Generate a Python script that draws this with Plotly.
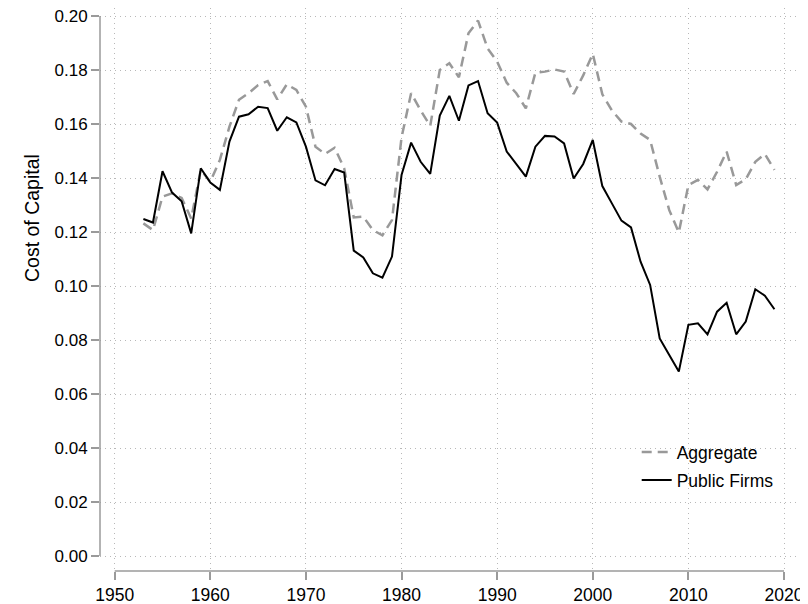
import plotly.graph_objects as go

years = list(range(1953, 2020))

aggregate = [
    0.1232, 0.1207, 0.1331, 0.1343, 0.1326, 0.1250, 0.1430, 0.1386, 0.1467, 0.1590,
    0.1690, 0.1714, 0.1744, 0.1759, 0.1691, 0.1747, 0.1726, 0.1664, 0.1516, 0.1489,
    0.1512, 0.1436, 0.1254, 0.1257, 0.1207, 0.1188, 0.1244, 0.1550, 0.1714, 0.1650,
    0.1593, 0.1800, 0.1825, 0.1773, 0.1936, 0.1983, 0.1880, 0.1831, 0.1753, 0.1714,
    0.1658, 0.1790, 0.1794, 0.1802, 0.1794, 0.1711, 0.1780, 0.1860, 0.1710, 0.1650,
    0.1609, 0.1600, 0.1565, 0.1541, 0.1405, 0.1281, 0.1198, 0.1374, 0.1393, 0.1358,
    0.1423, 0.1498, 0.1374, 0.1395, 0.1460, 0.1489, 0.1430,
]

public_firms = [
    0.1248, 0.1235, 0.1425, 0.1346, 0.1314, 0.1195, 0.1436, 0.1383, 0.1356, 0.1535,
    0.1627, 0.1636, 0.1664, 0.1659, 0.1575, 0.1625, 0.1606, 0.1516, 0.1391, 0.1373,
    0.1433, 0.1420, 0.1131, 0.1106, 0.1047, 0.1031, 0.1109, 0.1411, 0.1531, 0.1460,
    0.1415, 0.1631, 0.1704, 0.1612, 0.1743, 0.1759, 0.1640, 0.1605, 0.1498, 0.1452,
    0.1405, 0.1516, 0.1556, 0.1554, 0.1528, 0.1398, 0.1452, 0.1541, 0.1370, 0.1306,
    0.1242, 0.1217, 0.1090, 0.1004, 0.0806, 0.0744, 0.0683, 0.0856, 0.0862, 0.0821,
    0.0905, 0.0938, 0.0821, 0.0868, 0.0988, 0.0964, 0.0914,
]

x_ticks = [1950, 1960, 1970, 1980, 1990, 2000, 2010, 2020]
y_ticks = [0.00, 0.02, 0.04, 0.06, 0.08, 0.10, 0.12, 0.14, 0.16, 0.18, 0.20]
y_tick_labels = [f"{v:.2f}" for v in y_ticks]

FONT = "Liberation Sans, Arial, Helvetica, sans-serif"
AXIS_COL = "#9a9a9a"
GRID_COL = "#b8b8b8"

# figure is placed at (8, 8) in the page (default body margin)
W, H = 800, 596
L, R, T, B = 92, 789, 0, 563   # plot area in figure pixels
PW, PH = R - L, B - T

fig = go.Figure()
fig.add_trace(go.Scatter(
    x=years, y=aggregate, mode="lines", name="Aggregate", showlegend=True,
    line=dict(color="#999999", width=2.5, dash="10px,6px"),
    legend="legend",
))
fig.add_trace(go.Scatter(
    x=years, y=public_firms, mode="lines", name="Public Firms", showlegend=True,
    line=dict(color="#000000", width=2),
    legend="legend2",
))

# detached Stata-style axis lines
fig.add_shape(type="line", xref="paper", yref="y", x0=0, x1=0,
              y0=y_ticks[0], y1=y_ticks[-1], line=dict(color=AXIS_COL, width=1.5))
fig.add_shape(type="line", xref="x", yref="paper", x0=x_ticks[0], x1=x_ticks[-1],
              y0=0, y1=0, line=dict(color=AXIS_COL, width=1.5))

fig.add_annotation(
    text="Cost of Capital", textangle=-90, showarrow=False,
    xref="paper", yref="paper", x=(24 - L) / PW, y=(B - 210) / PH,
    xanchor="center", yanchor="middle",
    font=dict(family=FONT, size=19.5, color="#000000"),
)

legend_common = dict(
    xanchor="left", yanchor="middle", bgcolor="rgba(0,0,0,0)", borderwidth=0,
    font=dict(family=FONT, size=17.5, color="#000000"), visible=True,
)

fig.update_layout(
    width=W, height=H,
    margin=dict(l=L, r=W - R, t=T, b=H - B, pad=0, autoexpand=False),
    paper_bgcolor="white", plot_bgcolor="white",
    font=dict(family=FONT, size=17, color="#000000"),
    showlegend=True,
    legend=dict(x=(628.7 - L) / PW, y=(B - 444) / PH, **legend_common),
    legend2=dict(x=(628.7 - L) / PW, y=(B - 472) / PH, **legend_common),
    xaxis=dict(
        range=[1948.462, 2021.36], tickvals=x_ticks, ticktext=[str(t) for t in x_ticks],
        showline=False, zeroline=False, ticks="outside", ticklen=8, tickwidth=1.5,
        tickcolor=AXIS_COL, showgrid=True, gridcolor=GRID_COL, gridwidth=1,
        griddash="1px,4px", tickfont=dict(family=FONT, size=17.5), automargin=False,
        ticklabeloverflow="allow",
    ),
    yaxis=dict(
        range=[-0.005556, 0.202963], tickvals=y_ticks, ticktext=y_tick_labels,
        showline=False, zeroline=False, ticks="outside", ticklen=8, tickwidth=1.5,
        tickcolor=AXIS_COL, showgrid=True, gridcolor=GRID_COL, gridwidth=1,
        griddash="1px,4px", tickfont=dict(family=FONT, size=17), automargin=False,
        ticklabeloverflow="allow",
    ),
)

fig.write_html("out.html")
